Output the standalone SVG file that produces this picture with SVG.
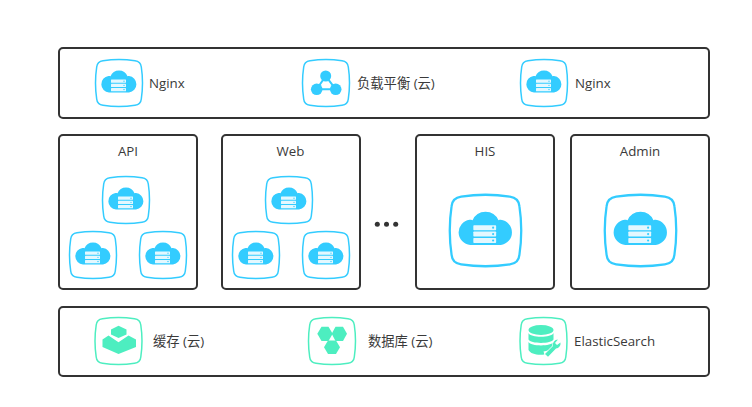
<svg xmlns="http://www.w3.org/2000/svg" xmlns:xlink="http://www.w3.org/1999/xlink" width="752" height="407" viewBox="0 0 752 407">
<style>
text{font-family:"Open Sans","Noto Sans CJK SC",sans-serif;font-size:13.300px;fill:#3a3a3a}
.mid{text-anchor:middle}
.panel{fill:#fff;stroke:#333;stroke-width:2}
.fb{fill:#33ccff}.fg{fill:#4deec0}
.sb{fill:none;stroke:#33ccff;stroke-width:1.500}
.sg{fill:none;stroke:#4deec0;stroke-width:1.500}
</style>
<defs>
<path id="sq" d="M8 1.700Q24 -0.700 40 1.700Q45.800 2.500 46.300 8Q48.700 24 46.300 40Q45.800 45.500 40 46.300Q24 48.700 8 46.300Q2.200 45.500 1.700 40Q-0.700 24 1.700 8Q2.200 2.500 8 1.700Z"/>
<symbol id="cloud" viewBox="0 0 48 48" overflow="visible">
<use xlink:href="#sq" class="sb"/>
<path class="fb" d="M14 33.500A8.300 8.300 0 0 1 13.500 17C14 17 15 17.100 15.500 17.300A9.200 9.200 0 0 1 32.500 17.300C33 17.100 33.500 17 34 17A8.300 8.300 0 0 1 34 33.500Z"/>
<g fill="#e4f8ff"><rect x="16" y="20.500" width="15" height="3.300" rx=".5"/><rect x="16" y="24.700" width="15" height="3.300" rx=".5"/><rect x="16" y="28.900" width="15" height="3.300" rx=".5"/></g>
<g class="fb"><circle cx="29" cy="22.150" r=".7"/><circle cx="29" cy="26.350" r=".7"/><circle cx="29" cy="30.550" r=".7"/></g>
</symbol>
</defs>
<g id="panel-top"><rect class="panel" x="59" y="48" width="650" height="70" rx="4"/></g>
<g id="nginx-1"><use xlink:href="#cloud" x="95" y="59" width="48" height="48"/><text x="149" y="88">Nginx</text></g>
<g id="lb"><use xlink:href="#sq" class="sb" transform="translate(302,59)"/>
<path d="M325.700 76L316.700 89.300H335.700Z" fill="none" stroke="#33ccff" stroke-width="2"/>
<g class="fb"><circle cx="325.700" cy="76" r="5.500"/><circle cx="316.700" cy="89.300" r="5.800"/><circle cx="335.700" cy="89.300" r="5.800"/></g>
<text x="357" y="88">负载平衡 (云)</text></g>
<g id="nginx-2"><use xlink:href="#cloud" x="520" y="59" width="48" height="48"/><text x="575" y="88">Nginx</text></g>
<g id="api"><rect class="panel" x="59" y="135" width="138" height="154" rx="4"/><text class="mid" x="128" y="156">API</text>
<use xlink:href="#cloud" x="102" y="176" width="48" height="48"/><use xlink:href="#cloud" x="69" y="231" width="48" height="48"/><use xlink:href="#cloud" x="139" y="231" width="48" height="48"/></g>
<g id="web"><rect class="panel" x="222" y="135" width="138" height="154" rx="4"/><text class="mid" x="290.500" y="156">Web</text>
<use xlink:href="#cloud" x="265" y="176" width="48" height="48"/><use xlink:href="#cloud" x="232" y="231" width="48" height="48"/><use xlink:href="#cloud" x="302" y="231" width="48" height="48"/></g>
<g id="more" fill="#333"><circle cx="377.300" cy="224.300" r="2.500"/><circle cx="386.500" cy="224.300" r="2.500"/><circle cx="395.700" cy="224.300" r="2.500"/></g>
<g id="his"><rect class="panel" x="416" y="135" width="138" height="154" rx="4"/><text class="mid" x="485" y="156">HIS</text>
<use xlink:href="#cloud" x="449" y="194" width="73" height="73"/></g>
<g id="admin"><rect class="panel" x="571" y="135" width="138" height="154" rx="4"/><text class="mid" x="640" y="156">Admin</text>
<use xlink:href="#cloud" x="604" y="194" width="73" height="73"/></g>
<g id="panel-bottom"><rect class="panel" x="59" y="307" width="650" height="69" rx="4"/></g>
<g id="cache" transform="translate(94.500,317)"><use xlink:href="#sq" class="sg"/>
<path class="fg" d="M24 8.700L32 12.500V17.500L24 21L16.500 17.500V12.500Z"/>
<path class="fg" d="M14 18.500L24 25.300L34 18.500L41.500 22.500V30L24 37L8 30V22.500Z"/>
<text x="58.500" y="29">缓存 (云)</text></g>
<g id="db" transform="translate(308,317)"><use xlink:href="#sq" class="sg"/>
<g class="fg"><path d="M13.500 9.700H20.500L24.700 16.800L20.500 24H13.500L9.300 16.800Z"/><path d="M27.500 9.700H35L39 16.800L35 24H27.500L23.700 16.800Z"/><path d="M20 23.500H28L32 30.200L28 37H20L16 30.200Z"/></g>
<text x="60" y="29">数据库 (云)</text></g>
<g id="es" transform="translate(519.500,317)"><use xlink:href="#sq" class="sg"/>
<ellipse class="fg" cx="21.500" cy="13" rx="12.500" ry="5"/>
<path class="fg" d="M9 16C11 21 32 21 34 16V22.500C32 27 11 27 9 22.500Z"/>
<path class="fg" d="M9 25C11 29.500 32 29.500 34 25V31C30 33.500 27 34 24 34.500L25 37.500C18 38.500 11 37 9 33Z"/>
<path d="M25.500 37L33.500 29A5.200 5.200 0 0 1 38.500 22.500L35.500 26L37.500 28L41 25.500A5.200 5.200 0 0 1 36.500 31.500L28.500 39.800Z" class="fg" stroke="#fff" stroke-width="1.200" paint-order="stroke"/>
<text x="54.500" y="29">ElasticSearch</text></g>
</svg>
